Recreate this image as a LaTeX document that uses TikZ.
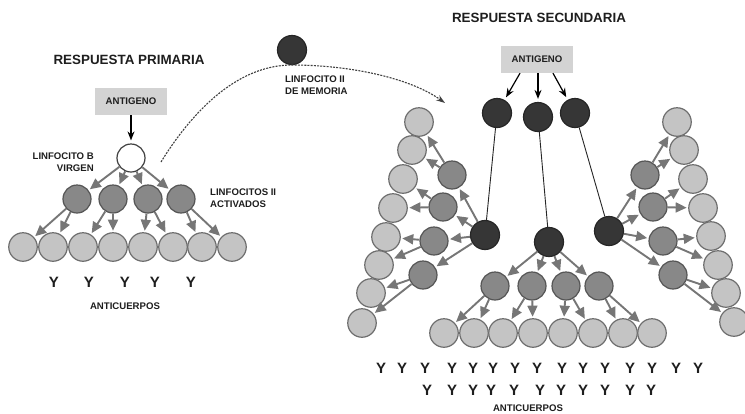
\documentclass[tikz,border=0pt]{standalone}
\usepackage{fontspec}
\setmainfont{Liberation Sans}
\usetikzlibrary{arrows.meta}

\definecolor{lightfill}{HTML}{C4C4C4}
\definecolor{lightedge}{HTML}{6E6E6E}
\definecolor{midfill}{HTML}{888888}
\definecolor{midedge}{HTML}{555555}
\definecolor{darkfill}{HTML}{363636}
\definecolor{darkedge}{HTML}{262626}
\definecolor{naiveedge}{HTML}{404040}
\definecolor{arrowgray}{HTML}{767676}
\definecolor{boxfill}{HTML}{D3D3D3}
\definecolor{textgray}{HTML}{1E1E1E}

\begin{document}
\begin{tikzpicture}[x=1pt,y=-1pt,
  cell/.style={circle, inner sep=0pt, minimum size=28pt, line width=1.2pt},
  plasma/.style={cell, minimum size=28.5pt, fill=lightfill, draw=lightedge},
  active/.style={cell, fill=midfill, draw=midedge},
  memory/.style={cell, minimum size=29pt, fill=darkfill, draw=darkedge},
  naive/.style={cell, fill=white, draw=naiveedge},
  expand/.style={draw=arrowgray, line width=1.9pt, -{Triangle[length=11pt,width=10pt]}, shorten >=1.5pt},
  bind/.style={draw=black, line width=1.2pt, -{Stealth[length=9pt,width=7pt]}, shorten >=3pt},
  link/.style={draw=darkedge, line width=0.9pt},
  recall/.style={draw=naiveedge, line width=1.1pt, dash pattern=on 2pt off 1.2pt, -{Stealth[length=9pt,width=6pt]}},
  agbox/.style={fill=boxfill, minimum width=72pt, minimum height=27pt, inner sep=0pt, text=textgray, font=\bfseries\fontsize{9.6}{11}\selectfont},
  title/.style={inner sep=0pt, text=textgray, font=\bfseries\fontsize{13.4}{15}\selectfont},
  tag/.style={inner sep=0pt, text=textgray, font=\bfseries\fontsize{9.6}{12}\selectfont},
  ab/.style={inner sep=0pt, text=textgray, font=\bfseries\fontsize{15}{17}\selectfont},
]
\useasboundingbox (0,0) rectangle (745,413);
\fill[white] (0,0) rectangle (745,413);

% ---------- primary response ----------
\node[title] (t1) at (129,60) {RESPUESTA PRIMARIA};
\node[agbox] (ag1) at (131,101.5) {ANTIGENO};
\node[naive] (b0) at (131,158) {};
\draw[bind] (ag1) -- (b0);
\node[tag, anchor=east, align=right] (lb) at (94,162) {LINFOCITO B\\VIRGEN};

\foreach \i/\x in {1/77,2/113,3/148,4/181}
  \node[active] (pm\i) at (\x,199) {};
\foreach \i/\x in {1/23,2/53,3/83,4/113,5/143,6/173,7/202,8/232}
  \node[plasma] (pp\i) at (\x,247) {};
\foreach \i in {1,...,4} \draw[expand] (b0) -- (pm\i);
\foreach \i [evaluate=\i as \a using int(2*\i-1), evaluate=\i as \b using int(2*\i)] in {1,...,4} {
  \draw[expand] (pm\i) -- (pp\a);
  \draw[expand] (pm\i) -- (pp\b);
}
\node[tag, anchor=west, align=left] (la) at (210,198.5) {LINFOCITOS II\\ACTIVADOS};

\foreach \i/\x in {1/54,2/89,3/125,4/155,5/191}
  \node[ab] (py\i) at (\x,282) {Y};
\node[tag] (pab) at (125,306) {ANTICUERPOS};

% ---------- memory cell and its path ----------
\node[memory] (mem) at (292,50) {};
\node[tag, anchor=west, align=left] (lm) at (285,85.5) {LINFOCITO II\\DE MEMORIA};
\coordinate (dstart) at (161,162);
\coordinate (dtop) at (292,65);
\coordinate (dend) at (445,103);
\draw[recall] (dstart) .. controls (190,115) and (235,65) .. (dtop)
                       .. controls (350,65) and (410,78) .. (dend);

% ---------- secondary response ----------
\node[title] (t2) at (539,18) {RESPUESTA SECUNDARIA};
\node[agbox] (ag2) at (537,59.5) {ANTIGENO};
\node[memory] (m1) at (497,113) {};
\node[memory] (m2) at (538,117) {};
\node[memory] (m3) at (575,113) {};
\draw[bind] ([xshift=-17pt]ag2.south) -- (m1);
\draw[bind] (ag2.south -| m2) -- (m2);
\draw[bind] ([xshift=16pt]ag2.south) -- (m3);

\node[memory] (dl) at (485,235) {};
\node[memory] (dc) at (549,242) {};
\node[memory] (dr) at (609,231) {};
\draw[link] (m1) -- (dl);
\draw[link] (m2) -- (dc);
\draw[link] (m3) -- (dr);

% left fan
\foreach \i/\x/\y in {1/452/175,2/443/207,3/434/241,4/423/275}
  \node[active] (lm\i) at (\x,\y) {};
\foreach \i/\x/\y in {1/419/122,2/412/150,3/403/179,4/393/208,5/386/237,6/379/265,7/371/293,8/362/323}
  \node[plasma] (lo\i) at (\x,\y) {};

% right fan
\foreach \i/\x/\y in {1/645/175,2/653/207,3/663/241,4/673/275}
  \node[active] (rm\i) at (\x,\y) {};
\foreach \i/\x/\y in {1/677/122,2/684/150,3/693/179,4/703/208,5/711/236,6/718/265,7/726/293,8/734/322}
  \node[plasma] (ro\i) at (\x,\y) {};

% central tree
\foreach \i/\x in {1/495,2/532,3/566,4/599}
  \node[active] (cm\i) at (\x,286) {};
\foreach \i/\x in {1/444,2/474,3/503,4/533,5/563,6/593,7/623,8/652}
  \node[plasma] (cb\i) at (\x,333) {};

\foreach \i in {1,...,4} {
  \draw[expand] (dl) -- (lm\i);
  \draw[expand] (dr) -- (rm\i);
  \draw[expand] (dc) -- (cm\i);
}
\foreach \i [evaluate=\i as \a using int(2*\i-1), evaluate=\i as \b using int(2*\i)] in {1,...,4} {
  \draw[expand] (lm\i) -- (lo\a);
  \draw[expand] (lm\i) -- (lo\b);
  \draw[expand] (rm\i) -- (ro\a);
  \draw[expand] (rm\i) -- (ro\b);
  \draw[expand] (cm\i) -- (cb\a);
  \draw[expand] (cm\i) -- (cb\b);
}

% antibodies
\foreach \i/\x in {1/381,2/402,3/425,4/452,5/473,6/493,7/515,8/537,9/562,10/583,11/605,12/630,13/652,14/676,15/698}
  \node[ab] (sy\i) at (\x,368) {Y};
\foreach \i/\x in {1/427,2/452,3/473,4/491,5/514,6/540,7/561,8/583,9/605,10/630,11/651}
  \node[ab] (sz\i) at (\x,390) {Y};
\node[tag] (sab) at (528,408) {ANTICUERPOS};
\end{tikzpicture}
\end{document}
